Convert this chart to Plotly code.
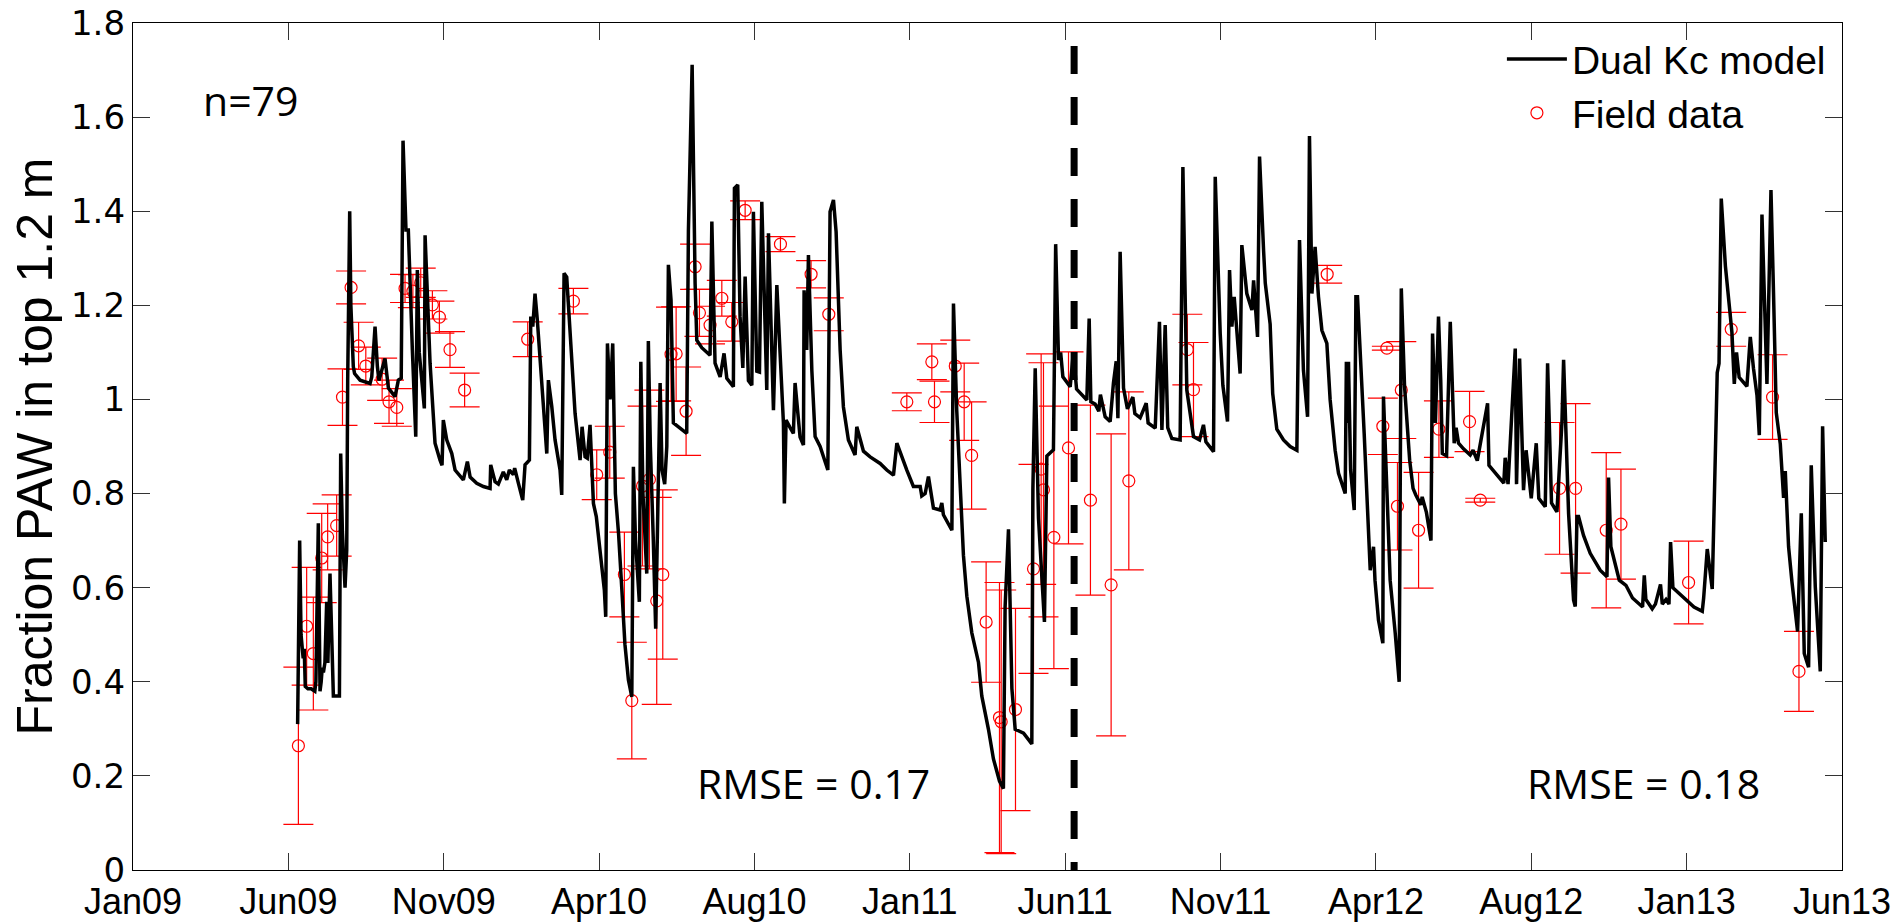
import numpy as np
import pandas as pd
import plotly.graph_objects as go

# ---------------- data (days since 2009-01-01) ----------------
model_days = [
    155.3, 157.2, 158.5, 159.5, 160.5, 161.5, 162.5, 165, 168, 171.5, 172.5, 174.8, 176.4, 177.5, 178.5,
    179.6, 181, 182.7, 183.8, 185.8, 187.5, 189, 194.7, 195.9, 197.5, 200, 201.6, 202.5, 204.4, 205.5,
    207.8, 209, 214.2, 223.6, 225.2, 228.3, 230.5, 232, 237.7, 240.9, 247.2, 250.3, 253, 254.7, 257.5,
    259.7, 263.5, 266.7, 268.2, 270, 274.8, 275.5, 280.2, 284.9, 289.6, 291.5, 292.7, 295.9, 300.7, 303.8,
    311.6, 315.4, 318, 324.2, 330.5, 336.8, 337.4, 341.5, 344.6, 349.3, 352.5, 355, 358.8, 360, 363.5,
    367.6, 369.8, 373.9, 375.2, 377.1, 379.2, 381.4, 385.6, 390.3, 391.8, 395, 398.1, 402.8, 404.4, 406.6,
    409.1, 412.9, 417, 421.7, 423.6, 426.4, 428.5, 431.1, 434.3, 437, 442.5, 444.6, 445.9, 447.5, 450,
    452.5, 455, 458, 461, 464, 467.3, 470.5, 472, 474, 477.6, 479, 481, 483, 484.6, 486.1,
    488, 490.8, 493, 497.2, 499, 501.5, 503.5, 505, 507.5, 509.7, 515, 522.3, 523.9, 527.4, 530.2,
    531.8, 536.5, 544.3, 546, 549, 553.8, 557.5, 560.1, 566.3, 567.3, 570.4, 572.6, 575.2, 577.4, 580.5,
    583.7, 585.2, 588.4, 590.9, 593.1, 597.8, 599.4, 604.1, 607.3, 612, 613.5, 614.4, 616, 619.8, 622.9,
    624.5, 629.2, 632.4, 633, 635.5, 637.1, 640.3, 643.4, 648.1, 655.4, 657.5, 660.7, 663.2, 667, 670.1,
    674.8, 681.1, 682.7, 689, 695.3, 704.7, 711, 717.3, 720.5, 729.9, 736.1, 742.5, 744, 747.2, 750.3,
    755, 761.3, 762.9, 764.4, 772.4, 773.9, 777, 781.8, 783.3, 786.5, 791.2, 797.5, 800.6, 806.9, 811.6,
    817.3, 821, 822.6, 825.8, 829, 832.1, 840, 847.8, 848.8, 851, 854.1, 859.7, 862, 868.2, 870.3,
    873, 875, 877.1, 884, 887, 890, 899.7, 901.9, 903.5, 907.5, 911, 912.5, 917, 921.7, 924.8,
    927.4, 929, 931.1, 934.3, 938, 943.1, 945, 950, 955.7, 957.5, 964.2, 968.2, 970.5, 973.6, 976,
    979.9, 987.7, 990.3, 994, 1000.3, 1006, 1009.7, 1012, 1019.2, 1020.8, 1025.5, 1028, 1032.4, 1034.3, 1036.5,
    1038.7, 1041, 1044.3, 1045.9, 1050.6, 1055.4, 1057, 1060.7, 1062.6, 1066.4, 1068, 1072.6, 1075, 1078.9, 1085.2,
    1091.5, 1097.8, 1100.3, 1104, 1107.9, 1109.7, 1112, 1115, 1118.2, 1121.4, 1126.1, 1129.2, 1133.9, 1137.1, 1143.4,
    1144.5, 1145.6, 1146.5, 1148.5, 1151.9, 1153.5, 1155, 1161.3, 1165.4, 1167, 1170.1, 1171.5, 1174.8, 1178.9, 1179.5,
    1182.7, 1185.8, 1190.6, 1194.3, 1196.3, 1199.4, 1204.2, 1207.4, 1210, 1214.8, 1216, 1220, 1224.3, 1225.8, 1228.5,
    1231.4, 1233.5, 1235, 1239, 1242.5, 1246.2, 1248, 1250.3, 1255, 1261.3, 1264, 1268, 1277.7, 1279, 1286.5,
    1293, 1294.3, 1297, 1303.8, 1305, 1307.9, 1311.6, 1314, 1318.9, 1323.6, 1326, 1332.1, 1334.3, 1338, 1343.1,
    1347.8, 1349.4, 1354.1, 1358.8, 1360.4, 1362, 1363.5, 1368.2, 1374.5, 1383.9, 1390.3, 1391.8, 1394, 1401.9, 1408.2,
    1414.4, 1423.9, 1425.5, 1427, 1433, 1436, 1440.8, 1442.5, 1446, 1448.8, 1450.3, 1452.5, 1462.9, 1472.4, 1480.2,
    1481.5, 1484.9, 1489.6, 1494.3, 1496, 1498.1, 1502, 1508.2, 1510.4, 1512.5, 1515, 1522.3, 1525.5, 1528.5, 1531.8,
    1534, 1536.5, 1541.2, 1545, 1547.4, 1550, 1553.8, 1556.9, 1558.5, 1561.6, 1564.8, 1570.1, 1573.6, 1576.4, 1580.5,
    1583, 1586.8, 1589.9, 1591.5, 1593.7, 1596.2,
]
model_paw = [
    0.31, 0.70, 0.50, 0.47, 0.45, 0.47, 0.39, 0.385, 0.385, 0.38, 0.40, 0.737, 0.38, 0.40, 0.43,
    0.42, 0.44, 0.57, 0.44, 0.63, 0.45, 0.37, 0.37, 0.885, 0.72, 0.60, 0.68, 1.04, 1.40, 1.20,
    1.07, 1.055, 1.041, 1.034, 1.048, 1.155, 1.07, 1.04, 1.087, 1.024, 1.006, 1.041, 1.045, 1.55, 1.36,
    1.36, 1.105, 0.921, 1.275, 1.10, 0.981, 1.349, 1.077, 0.907, 0.871, 0.86, 0.956, 0.914, 0.885, 0.85,
    0.829, 0.868, 0.835, 0.822, 0.815, 0.811, 0.861, 0.825, 0.82, 0.846, 0.829, 0.85, 0.84, 0.854, 0.822,
    0.786, 0.861, 0.871, 1.176, 1.155, 1.225, 1.168, 1.034, 0.885, 1.041, 0.985, 0.914, 0.85, 0.797, 1.268,
    1.26, 1.105, 0.97, 0.871, 0.942, 0.878, 0.875, 0.946, 0.779, 0.751, 0.645, 0.595, 0.538, 1.119, 1.0,
    1.119, 0.80, 0.715, 0.60, 0.48, 0.404, 0.368, 0.857, 0.70, 0.57, 1.08, 0.80, 0.70, 0.63, 1.124,
    0.90, 0.70, 0.513, 1.035, 0.85, 0.82, 0.90, 1.286, 1.211, 0.95, 0.94, 0.928, 1.36, 1.711, 1.247,
    1.126, 1.11, 1.094, 1.378, 1.077, 1.048, 1.098, 1.045, 1.027, 1.449, 1.456, 1.176, 1.067, 1.261, 1.04,
    1.03, 1.399, 1.06, 1.058, 1.42, 1.02, 1.353, 0.977, 1.243, 0.99, 0.95, 0.779, 0.956, 0.94, 0.928,
    1.035, 0.92, 0.903, 1.232, 1.105, 1.307, 1.062, 0.921, 0.90, 0.85, 1.399, 1.424, 1.356, 1.105, 0.984,
    0.914, 0.882, 0.942, 0.89, 0.878, 0.864, 0.85, 0.839, 0.907, 0.85, 0.815, 0.815, 0.795, 0.80, 0.836,
    0.769, 0.765, 0.78, 0.755, 0.722, 1.204, 0.976, 0.74, 0.669, 0.582, 0.504, 0.441, 0.37, 0.299, 0.236,
    0.189, 0.173, 0.559, 0.724, 0.386, 0.299, 0.291, 0.268, 0.81, 1.066, 0.748, 0.527, 0.88, 0.893, 1.33,
    1.084, 1.10, 1.048, 1.027, 1.10, 1.022, 0.999, 1.172, 0.995, 0.99, 0.975, 1.01, 0.963, 0.953, 1.035,
    1.081, 0.96, 1.314, 1.024, 0.98, 1.005, 0.97, 0.961, 0.992, 0.95, 0.939, 1.165, 0.935, 1.158, 0.94,
    0.917, 0.914, 1.494, 1.02, 0.921, 0.914, 0.946, 0.91, 0.889, 1.473, 1.14, 1.03, 0.953, 1.275, 1.155,
    1.218, 1.14, 1.055, 1.328, 1.225, 1.19, 1.253, 1.133, 1.516, 1.317, 1.247, 1.16, 1.013, 0.937, 0.914,
    0.90, 0.892, 1.339, 1.062, 0.963, 1.56, 1.225, 1.324, 1.218, 1.147, 1.119, 0.999, 0.892, 0.843, 0.80,
    1.08, 0.95, 1.08, 0.85, 0.765, 1.218, 1.218, 0.928, 0.694, 0.637, 0.687, 0.616, 0.531, 0.482, 1.006,
    0.829, 0.616, 0.503, 0.40, 1.236, 1.027, 0.871, 0.811, 0.797, 0.776, 0.793, 0.76, 0.70, 1.14, 0.95,
    1.176, 1.041, 0.885, 0.88, 1.165, 0.907, 0.94, 0.907, 0.895, 0.882, 0.892, 0.87, 0.992, 0.86, 0.839,
    0.822, 0.876, 0.82, 1.108, 0.82, 1.087, 0.807, 0.892, 0.79, 0.907, 0.79, 0.772, 1.077, 0.78, 0.761,
    0.949, 1.084, 0.758, 0.574, 0.56, 0.751, 0.751, 0.711, 0.673, 0.637, 0.623, 0.834, 0.687, 0.616, 0.605,
    0.578, 0.559, 0.626, 0.575, 0.555, 0.565, 0.607, 0.565, 0.575, 0.565, 0.697, 0.60, 0.578, 0.559, 0.55,
    0.578, 0.682, 0.597, 1.057, 1.076, 1.427, 1.284, 1.142, 1.033, 1.10, 1.047, 1.028, 1.133, 1.066, 1.009,
    0.924, 1.393, 1.033, 1.445, 1.227, 0.972, 0.905, 0.791, 0.848, 0.687, 0.612, 0.507, 0.758, 0.46, 0.431,
    0.86, 0.602, 0.469, 0.422, 0.943, 0.697,
]

field_days = [
    156, 163.8, 170.1, 178, 183.6, 192.1, 197.6, 205.7, 212.8, 219.6,
    235, 241.5, 248.8, 256.6, 264, 271.4, 282.4, 289, 299, 312.8,
    372.3, 415.4, 437.4, 449.7, 463.5, 470.5, 480.6, 487.1, 494, 499.7,
    507.5, 512.3, 521.7, 530.2, 534.3, 544.3, 555.4, 564.8, 577.4, 610.7,
    639.6, 656.3, 729.9, 753.5, 756, 775.6, 784, 791, 804.7, 817.3,
    818.9, 832.4, 849.4, 856.6, 858.8, 868.6, 882.4, 903.1, 922.6, 939.3,
    994.5, 1000.3, 1126.4, 1178.9, 1182.7, 1192.7, 1196.3, 1212.6, 1231.8, 1260.7,
    1270.8, 1345.6, 1360.7, 1389.6, 1403.5, 1467.3, 1507.5, 1546.5, 1571.4,
]
field_paw = [
    0.264, 0.518, 0.46, 0.663, 0.708, 0.732, 1.005, 1.238, 1.114, 1.071,
    1.043, 0.995, 0.983, 1.236, 1.23, 1.248, 1.201, 1.175, 1.106, 1.02,
    1.128, 1.209, 0.84, 0.888, 0.628, 0.36, 0.816, 0.83, 0.572, 0.628,
    1.096, 1.097, 0.975, 1.282, 1.184, 1.158, 1.215, 1.165, 1.402, 1.33,
    1.266, 1.181, 0.995, 1.08, 0.995, 1.071, 0.995, 0.881, 0.527, 0.324,
    0.315, 0.341, 0.64, 0.852, 0.808, 0.707, 0.897, 0.786, 0.606, 0.827,
    1.106, 1.021, 1.266, 0.943, 1.109, 0.773, 1.02, 0.722, 0.937, 0.953,
    0.786, 0.811, 0.811, 0.722, 0.735, 0.611, 1.149, 1.005, 0.422,
]
field_err = [
    0.167, 0.125, 0.12, 0.095, 0.07, 0.065, 0.06, 0.035, 0.05, 0.04,
    0.045, 0.046, 0.04, 0.03, 0.035, 0.031, 0.03, 0.034, 0.038, 0.036,
    0.037, 0.027, 0.053, 0.055, 0.09, 0.124, 0.17, 0.19, 0.22, 0.18,
    0.1, 0.1, 0.094, 0.048, 0.05, 0.04, 0.038, 0.041, 0.02, 0.016,
    0.029, 0.035, 0.019, 0.038, 0.044, 0.055, 0.082, 0.114, 0.128, 0.287,
    0.28, 0.215, 0.222, 0.245, 0.27, 0.279, 0.204, 0.202, 0.321, 0.189,
    0.075, 0.1, 0.019, 0.06, 0.004, 0.093, 0.103, 0.123, 0.06, 0.064,
    0.004, 0.14, 0.18, 0.165, 0.117, 0.088, 0.036, 0.09, 0.085,
]

tick_labels = ["Jan09", "Jun09", "Nov09", "Apr10", "Aug10", "Jan11",
               "Jun11", "Nov11", "Apr12", "Aug12", "Jan13", "Jun13"]
y_ticks = [0, 0.2, 0.4, 0.6, 0.8, 1.0, 1.2, 1.4, 1.6, 1.8]
y_tick_labels = ["0", "0.2", "0.4", "0.6", "0.8", "1", "1.2", "1.4", "1.6", "1.8"]
x_start, x_end = "2009-01-01", "2013-06-01"
split_day = 887.7  # dashed separator (calibration | validation)

# ---------------- figure ----------------
base = pd.Timestamp(x_start)
def to_dates(days):
    return base + pd.to_timedelta(np.asarray(days, dtype=float), unit="D")

tick_vals = pd.date_range(x_start, x_end, periods=len(tick_labels))

fig = go.Figure()

fig.add_trace(go.Scatter(
    x=to_dates(field_days), y=field_paw, mode="markers", name="Field data",
    marker=dict(symbol="circle-open", size=12, color="#ff0000", line=dict(width=1.2, color="#ff0000")),
    error_y=dict(type="data", array=field_err, visible=True, color="#ff0000", thickness=1.2, width=15),
))
fig.add_trace(go.Scatter(
    x=to_dates(model_days), y=model_paw, mode="lines", name="Dual Kc model",
    line=dict(color="black", width=3.5),
))

split_date = to_dates([split_day])[0]
px_per_unit = 847 / 1.8
fig.add_shape(type="line", xref="x", yref="y", x0=split_date, x1=split_date,
              y0=-20 / px_per_unit, y1=1.85,
              line=dict(color="black", width=7, dash="28px,23px"))

ann_font = dict(family="Open Sans", size=41, color="black")
fig.add_annotation(text="n=79", xref="paper", yref="paper", x=0.040, y=0.909,
                   xanchor="left", yanchor="middle", showarrow=False, font=ann_font)
fig.add_annotation(text="RMSE = 0.17", xref="paper", yref="paper", x=0.329, y=0.103,
                   xanchor="left", yanchor="middle", showarrow=False, font=ann_font)
fig.add_annotation(text="RMSE = 0.18", xref="paper", yref="paper", x=0.8145, y=0.103,
                   xanchor="left", yanchor="middle", showarrow=False, font=ann_font)

axis_common = dict(showline=True, linecolor="black", linewidth=1.3, mirror="ticks",
                   ticks="inside", ticklen=17, tickwidth=1, tickcolor="#333333",
                   showgrid=False, zeroline=False)

fig.update_xaxes(type="date", range=[x_start, x_end], tickmode="array",
                 tickvals=tick_vals, ticktext=tick_labels,
                 tickfont=dict(family="Liberation Sans, Arial", size=36, color="black"),
                 **axis_common)
fig.update_yaxes(range=[0, 1.8], tickmode="array",
                 tickvals=y_ticks, ticktext=y_tick_labels,
                 tickfont=dict(family="DejaVu Sans", size=34, color="black"),
                 title=dict(text="Fraction PAW in top 1.2 m",
                            font=dict(family="Liberation Sans, Arial", size=50, color="black"),
                            standoff=2),
                 **axis_common)

fig.update_layout(
    width=1901, height=923,
    margin=dict(l=133, r=59, t=23, b=53, autoexpand=False),
    paper_bgcolor="white", plot_bgcolor="white",
    showlegend=True,
    legend=dict(x=0.801, y=0.995, xanchor="left", yanchor="top",
                bgcolor="rgba(0,0,0,0)", borderwidth=0, traceorder="reversed",
                font=dict(family="Liberation Sans, Arial", size=39, color="black"),
                itemwidth=60),
)

fig.write_html("out.html")
